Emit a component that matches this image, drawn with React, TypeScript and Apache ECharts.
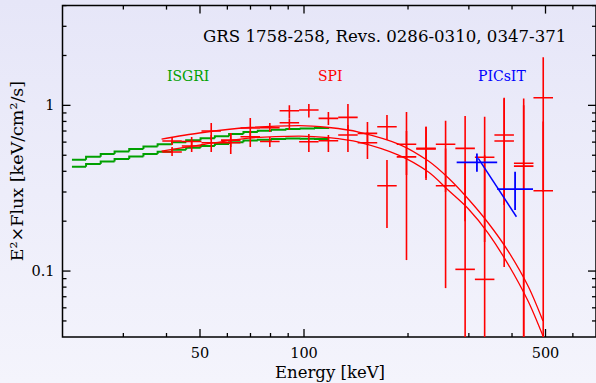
import React, { useEffect, useRef } from "react";
import * as echarts from "echarts";

// ---------- data ----------
// ISGRI bin edges (keV) and two spectra
const isgriEdges = [21.3, 23.4, 25.8, 28.3, 31.2, 34.3, 37.7, 41.5, 45.6, 50.2, 55.2, 60.7, 66.8, 73.5, 80.8, 88.9, 97.8, 107.6, 118.3];
const isgri1Flux = [0.470, 0.489, 0.509, 0.527, 0.545, 0.564, 0.582, 0.598, 0.615, 0.633, 0.652, 0.672, 0.691, 0.702, 0.712, 0.720, 0.725, 0.730];
const isgri2Flux = [0.426, 0.442, 0.459, 0.475, 0.491, 0.508, 0.524, 0.539, 0.554, 0.569, 0.584, 0.599, 0.614, 0.620, 0.626, 0.630, 0.628, 0.626];

// SPI bin edges (keV) and two spectra with error bounds
const spiEdges = [38.9, 44.3, 50.5, 57.5, 65.5, 74.6, 85.0, 96.8, 110.2, 125.6, 143.0, 162.9, 185.5, 211.3, 240.7, 274.2, 312.3, 355.7, 405.1, 461.4, 525.6];
const spi1Flux = [0.609, 0.605, 0.700, 0.617, 0.730, 0.733, 0.928, 0.937, 0.835, 0.846, 0.678, 0.743, 0.582, 0.550, 0.582, 0.550, 0.486, 0.662, 0.447, 1.111];
const spi1Lo = [0.576, 0.568, 0.617, 0.560, 0.635, 0.690, 0.838, 0.846, 0.760, 0.710, 0.576, 0.617, 0.380, 0.364, 0.300, 0.200, 0.150, 0.250, 0.010, 0.300];
const spi1Hi = [0.644, 0.644, 0.782, 0.681, 0.838, 0.782, 1.000, 1.018, 0.911, 1.018, 0.793, 0.874, 0.911, 0.743, 0.807, 0.862, 0.854, 1.111, 1.100, 1.949];
const spi2Flux = [0.523, 0.568, 0.595, 0.595, 0.646, 0.605, 0.785, 0.603, 0.612, 0.662, 0.595, 0.327, 0.489, 0.545, 0.327, 0.1024, 0.0891, 0.609, 0.430, 0.305];
const spi2Lo = [0.494, 0.523, 0.523, 0.508, 0.560, 0.560, 0.710, 0.523, 0.523, 0.523, 0.474, 0.182, 0.1165, 0.354, 0.0789, 0.010, 0.010, 0.1057, 0.010, 0.010];
const spi2Hi = [0.560, 0.609, 0.662, 0.681, 0.700, 0.644, 0.835, 0.671, 0.662, 0.760, 0.690, 0.468, 0.700, 0.743, 0.550, 0.450, 0.500, 1.100, 1.000, 0.800];

// model curves
const modelE = [38.7, 49.8, 69.4, 96.7, 118.0, 144.0, 187.8, 229.2, 261.7, 298.8, 341.4, 389.8, 445.1, 491.7];
const model1F = [0.626, 0.681, 0.735, 0.755, 0.735, 0.690, 0.584, 0.461, 0.364, 0.272, 0.195, 0.132, 0.0812, 0.0499];
const model2F = [0.530, 0.576, 0.635, 0.653, 0.639, 0.600, 0.501, 0.396, 0.307, 0.2375, 0.169, 0.1098, 0.0659, 0.0405];

// PICsIT
const picsitEdges = [276.6, 362.3, 460.0];
const picsitFlux = [0.453, 0.3125];
const picsitLo = [0.398, 0.2334];
const picsitHi = [0.513, 0.398];
const picsitModelE = [319.4, 411.9];
const picsitModelF = [0.479, 0.2127];

// axes
const xRange = [20, 700];
const yRange = [0.04, 4];
const xMajorTicks = [50, 100, 500];
const xMinorTicks = [30, 40, 60, 70, 80, 90, 200, 300, 400, 600];
const yMajorTicks = [0.1, 1];
const yMinorTicks = [0.05, 0.06, 0.07, 0.08, 0.09, 0.2, 0.3, 0.4, 0.5, 0.6, 0.7, 0.8, 0.9, 2, 3, 4];

const titleText = "GRS 1758-258, Revs. 0286-0310, 0347-371";
const xTitle = "Energy [keV]";
const yTitle = "E\u00b2\u00d7Flux [keV/cm\u00b2/s]";

const RED = "#ff0000";
const GREEN = "#00a000";
const BLUE = "#0000ff";
const SERIF = "DejaVu Serif";

function binData(edges: number[], flux: number[], lo?: number[], hi?: number[]) {
  return flux.map((f, i) => {
    const e0 = edges[i];
    const e1 = edges[i + 1];
    return [Math.sqrt(e0 * e1), f, e0, e1, lo ? lo[i] : f, hi ? hi[i] : f, i > 0 ? flux[i - 1] : f];
  });
}

function crossRender(color: string, lw: number) {
  return (params: any, api: any) => {
    const e = api.value(0), f = api.value(1), e0 = api.value(2), e1 = api.value(3), lo = api.value(4), hi = api.value(5);
    const pL = api.coord([e0, f]);
    const pR = api.coord([e1, f]);
    const pT = api.coord([e, hi]);
    const pB = api.coord([e, lo]);
    return {
      type: "group",
      children: [
        { type: "line", shape: { x1: pL[0], y1: pL[1], x2: pR[0], y2: pR[1] }, style: { stroke: color, lineWidth: lw } },
        { type: "line", shape: { x1: pT[0], y1: pT[1], x2: pB[0], y2: pB[1] }, style: { stroke: color, lineWidth: lw } },
      ],
    };
  };
}

function stepRender(color: string, lw: number) {
  return (params: any, api: any) => {
    const f = api.value(1), e0 = api.value(2), e1 = api.value(3), fPrev = api.value(6);
    const pP = api.coord([e0, fPrev]);
    const pL = api.coord([e0, f]);
    const pR = api.coord([e1, f]);
    return {
      type: "polyline",
      shape: { points: [pP, pL, pR] },
      style: { stroke: color, lineWidth: lw, fill: "none" },
    };
  };
}

const tickData: number[][] = [
  ...xMajorTicks.map((v) => [v, 1, 0, 1]),
  ...xMinorTicks.map((v) => [v, 1, 0, 0]),
  ...yMajorTicks.map((v) => [100, v, 1, 1]),
  ...yMinorTicks.map((v) => [100, v, 1, 0]),
];

function tickRender(params: any, api: any) {
  const cs = params.coordSys;
  const axis = api.value(2);
  const major = api.value(3) === 1;
  const len = major ? 8 : 4;
  const st = { stroke: "#000", lineWidth: 1.3 };
  const children: any[] = [];
  if (axis === 0) {
    const v = api.value(0);
    const px = api.coord([v, 1])[0];
    const yb = cs.y + cs.height;
    children.push({ type: "line", shape: { x1: px, y1: yb, x2: px, y2: yb - len }, style: st });
    children.push({ type: "line", shape: { x1: px, y1: cs.y, x2: px, y2: cs.y + len }, style: st });
    if (major) {
      children.push({
        type: "text",
        x: px,
        y: yb + 16,
        style: { text: String(v), font: `14.5px ${SERIF}`, fill: "#000", textAlign: "center", textVerticalAlign: "middle", align: "center", verticalAlign: "middle" },
      });
    }
  } else {
    const v = api.value(1);
    const py = api.coord([100, v])[1];
    const xr = cs.x + cs.width;
    children.push({ type: "line", shape: { x1: cs.x, y1: py, x2: cs.x + len, y2: py }, style: st });
    children.push({ type: "line", shape: { x1: xr, y1: py, x2: xr - len, y2: py }, style: st });
    if (major) {
      children.push({
        type: "text",
        x: cs.x - 8,
        y: py,
        style: { text: String(v), font: `14.5px ${SERIF}`, fill: "#000", textAlign: "right", textVerticalAlign: "middle", align: "right", verticalAlign: "middle" },
      });
    }
  }
  return { type: "group", children };
}

function txt(text: string, x: number, y: number, color: string, size: number, align = "left", rotation = 0) {
  return {
    type: "text",
    x,
    y,
    rotation,
    z: 100,
    style: { text, fill: color, font: `${size}px ${SERIF}`, textAlign: align, textVerticalAlign: "middle", align, verticalAlign: "middle" },
  };
}

export default function App() {
  const ref = useRef<HTMLDivElement>(null);
  useEffect(() => {
    if (!ref.current) return;
    const chart = echarts.init(ref.current, undefined, { renderer: "svg" });
    const option: any = {
      animation: false,
      backgroundColor: "transparent",
      grid: { left: 62.5, top: 5.6, width: 535.8, height: 331.4, show: true, borderColor: "#000", borderWidth: 1.5, backgroundColor: "transparent" },
      xAxis: {
        type: "log", logBase: 10, min: xRange[0], max: xRange[1],
        axisLine: { show: false }, axisTick: { show: false }, axisLabel: { show: false }, splitLine: { show: false }, minorTick: { show: false },
      },
      yAxis: {
        type: "log", logBase: 10, min: yRange[0], max: yRange[1],
        axisLine: { show: false }, axisTick: { show: false }, axisLabel: { show: false }, splitLine: { show: false }, minorTick: { show: false },
      },
      graphic: [
        txt(titleText, 203, 36, "#000", 16.6),
        txt("ISGRI", 167, 76, GREEN, 14),
        txt("SPI", 318, 76, RED, 14),
        txt("PICsIT", 478, 76, BLUE, 14),
        txt(xTitle, 330, 372, "#000", 16.5, "center"),
        txt(yTitle, 17, 171, "#000", 17.5, "center", Math.PI / 2),
      ],
      series: [
        { type: "custom", name: "ISGRI 1", data: binData(isgriEdges, isgri1Flux), renderItem: stepRender(GREEN, 2), encode: { x: 0, y: 1 }, clip: true, z: 2 },
        { type: "custom", name: "ISGRI 2", data: binData(isgriEdges, isgri2Flux), renderItem: stepRender(GREEN, 2), encode: { x: 0, y: 1 }, clip: true, z: 2 },
        { type: "custom", name: "SPI 1", data: binData(spiEdges, spi1Flux, spi1Lo, spi1Hi), renderItem: crossRender(RED, 1.6), encode: { x: 0, y: 1 }, clip: true, z: 3 },
        { type: "custom", name: "SPI 2", data: binData(spiEdges, spi2Flux, spi2Lo, spi2Hi), renderItem: crossRender(RED, 1.6), encode: { x: 0, y: 1 }, clip: true, z: 3 },
        { type: "line", name: "Model 1", data: modelE.map((e, i) => [e, model1F[i]]), showSymbol: false, smooth: 0.3, lineStyle: { color: RED, width: 1.3 }, clip: true, z: 4 },
        { type: "line", name: "Model 2", data: modelE.map((e, i) => [e, model2F[i]]), showSymbol: false, smooth: 0.3, lineStyle: { color: RED, width: 1.3 }, clip: true, z: 4 },
        { type: "custom", name: "PICsIT", data: binData(picsitEdges, picsitFlux, picsitLo, picsitHi), renderItem: crossRender(BLUE, 1.8), encode: { x: 0, y: 1 }, clip: true, z: 5 },
        { type: "line", name: "PICsIT model", data: picsitModelE.map((e, i) => [e, picsitModelF[i]]), showSymbol: false, lineStyle: { color: BLUE, width: 1.5 }, clip: true, z: 5 },
        { type: "custom", name: "ticks", data: tickData, renderItem: tickRender, encode: { x: 0, y: 1 }, clip: false, silent: true, z: 10 },
      ],
    };
    chart.setOption(option);
    return () => chart.dispose();
  }, []);
  return (
    <div
      ref={ref}
      style={{
        position: "fixed",
        left: 0,
        top: 0,
        width: 596,
        height: 383,
        background: "linear-gradient(to bottom, #e6e6f8 0%, #f4f4fc 100%)",
      }}
    />
  );
}
